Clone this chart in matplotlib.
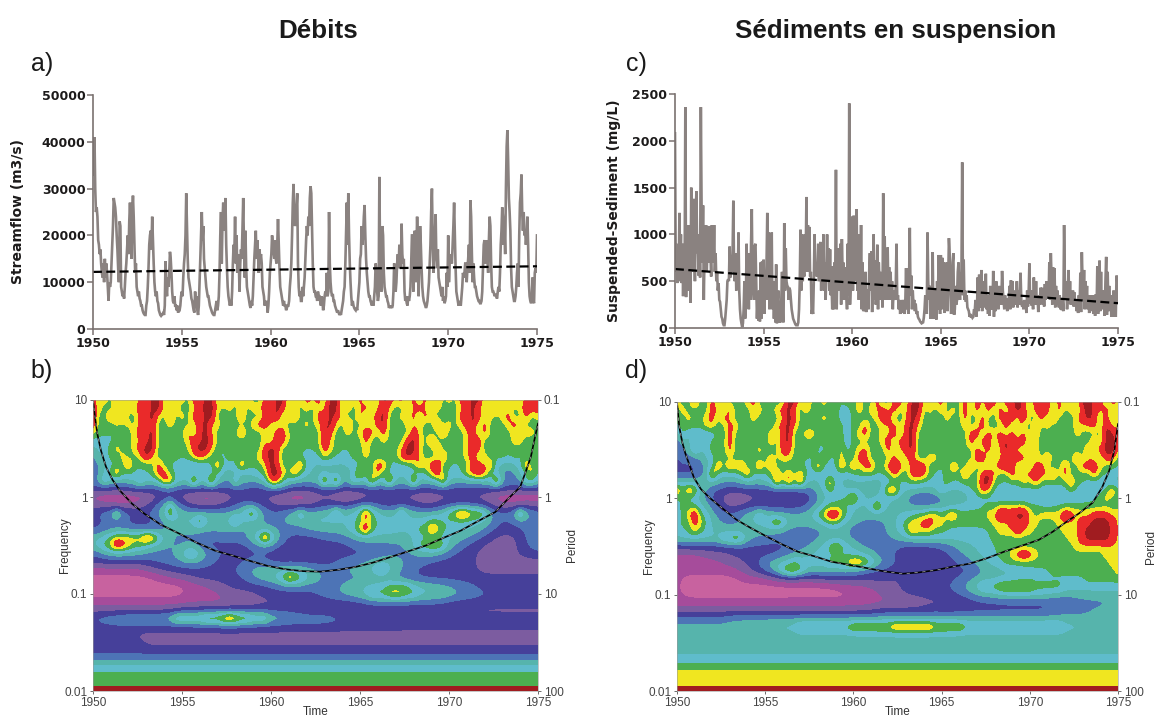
import numpy as np
import matplotlib
matplotlib.use('Agg')
import matplotlib.pyplot as plt
from matplotlib.colors import ListedColormap, BoundaryNorm

W, H = 1155, 718

# values, 24 samples per year, in thousands of m3/s
flow_k = [
    33,38,41,30,25,26,24,19,18,16,17,14,12,11,14,10,15,11,14,12,9,6,10,9,
    10,14,18,22,28,27,26,24,20,17,13,10,23,22,9,8,7,8,6.5,9,12,14,17,20,
    16,23,27,22,15,25,28.5,24,18,12,14,9,8,7,8,6.5,6,5,5,4,3.5,3.2,3,3,
    5,6,9,13,18,20,21,17,24,19,14,10,8,7,8,6,5.5,4,3.5,3,2.8,3,3.2,3.5,
    3,5,14.5,9,7,11,9,12,16.5,15,12,8,6,5.5,7,5,5,4,5,3.5,4,4,5,7,
    8,7,11,14,16,20,29,22,15,11,10,9,8,6.5,6,5,4,3.5,8,5,7,4,3,5,
    10,15,20,25,19,22,15,13,11,9,8,7,7,6,5,4.5,4,3.5,3.2,3,3,4,5,6,
    4,5,7,12,20,25,14,23,27,21,24,28,18,13,9,7,6,5,6,5,8,14,18,16,
    24,14,20,12,16,15,8,14,17,15,22,28,18,11,21,13,9,8,7,6,5,4.5,6,5,
    7,11,15,18,21,15,19,16,12,17,15,16,14,9,8,7,5,6,5,6,3.5,5,8,12,
    14,16,20,18,17,15,19,15,14,18,23.5,18,13,9,8,7,6,5,6,5,5,4,4.5,5,
    5,6,9,11,14,20,27,31,24,22,23,26,29,14,9,7,8,6,6,9,7,9,11,15,
    19,22,20,24,22,28,30.5,29,21,14,9,8,8,7,7,6,8,7,7,6,5,7,6,4,
    5,7,8,7,12,7,8,25,14,10,8,7,7.5,6,6,5,4.5,4,3.5,4,3.5,3,3.5,3,
    4,5,6,8,9,14,21,27,18,29,20,14,10,7,5,6,5,4.5,4.2,4,4.5,4,6,8,
    10,15,16,22,18,20,24,26.5,20,15,12,10,8,7,7,6,5.5,5,6,5,7,9,14,12,
    8,6,7,32.5,14,9,8,22,20,12,9,8,7,7,6,5.5,4.5,5,4.5,5,4.5,5,8,14,
    12,8,10,14,16,13,18,15,13,22.5,16,14,15,8,6,7,5.5,5,7,6,7,9,14,20,
    20,8,20,21,10,16,24,18,7,15,22,18,13,9,7,6,5.5,5,4.5,5,6,8,10,14,
    18,25,30,20,12,17,20,24.5,15,13,17,11,10,9,8,7,9,6,7,5.5,6,7,12,9,
    20,10,14,16,15,14,18,22,27,20,13,8,7,6,5,6,5.5,5,7,9,12,11,12,14,
    14,10,13,15,18,12,27.5,24,16,10,14,11,9,9,8,7,6.5,6,6,5.5,5.5,6,8,13,
    18,19,14,17,19,15,12,19,24,22,14,9,8,8,7.5,7,7.5,7,6.5,8,9,8,12,18,
    21,26,24,18,21,16,30,39,42.5,36,28,25,21,13,9,8,7,6,6,7,9,12,14,9,
    20,27,29,33,25,21,25,20,21,18,20,24,18,10,7,6,5.5,6,11,6,5.5,12,13,12,
    20,
]
flow_trend = [12200, 13400]

# mg/L, 24 samples per year
sediment = [
    2080,600,900,480,800,500,1230,700,1000,480,900,340,800,480,2360,330,900,400,1100,500,900,270,1500,1000,
    600,1380,900,500,1200,1460,800,900,560,1000,540,2360,1300,700,1310,300,800,700,1100,600,900,700,1090,800,
    800,550,1100,800,700,1100,600,800,500,600,400,480,300,280,200,120,100,50,30,30,100,200,300,500,
    520,500,870,540,700,600,800,1360,600,500,800,400,700,500,1020,400,200,100,50,10,50,200,500,100,
    300,900,250,700,200,800,300,900,1270,500,400,300,880,900,500,100,300,80,400,70,700,100,710,300,
    730,150,600,300,700,1230,300,1020,200,600,300,1020,200,500,100,400,60,680,50,300,400,60,100,60,
    300,600,100,60,1120,400,850,500,450,440,300,430,400,300,200,150,100,80,60,40,30,30,30,60,
    200,500,1050,400,1000,500,700,550,1000,700,1400,600,1100,800,1080,550,600,150,200,150,500,1000,600,700,
    550,600,900,500,750,920,400,800,500,1000,400,700,300,600,1000,500,850,400,840,350,500,200,660,200,
    700,500,1690,200,700,450,850,400,900,250,950,600,700,300,650,300,400,200,900,350,2400,250,500,700,
    1190,400,1200,500,750,900,1270,400,1000,300,900,300,1100,200,700,180,500,180,600,170,400,400,200,600,
    800,400,820,170,600,1000,300,720,250,400,890,200,700,500,600,300,500,220,1440,600,980,300,700,300,
    860,400,650,300,600,300,500,200,400,350,300,450,900,300,350,200,300,150,250,200,300,160,300,150,
    300,640,200,640,150,500,1070,350,560,200,400,250,300,180,260,150,180,120,100,90,70,60,50,55,
    60,110,200,350,300,150,1020,500,300,450,100,450,200,810,100,350,100,400,90,500,200,780,400,150,
    780,200,750,500,700,160,600,400,700,180,500,960,800,400,150,300,700,800,140,200,450,250,300,600,
    700,400,300,500,600,1770,350,730,300,400,280,350,220,200,180,120,150,110,130,110,120,200,180,300,
    120,200,540,180,570,220,400,620,180,500,220,400,300,580,200,300,150,350,130,450,200,300,200,610,
    120,400,180,500,250,350,200,450,260,350,250,610,400,300,200,350,220,280,180,320,250,450,200,510,
    280,500,220,350,260,400,250,500,220,400,250,350,590,300,230,250,200,300,220,250,160,400,230,380,
    690,260,400,240,350,200,540,300,250,500,250,350,170,300,250,430,300,430,250,400,230,470,300,500,
    330,500,350,700,300,800,550,250,650,300,640,220,450,280,400,280,220,350,200,300,190,300,180,1100,
    500,300,500,200,350,620,260,500,250,350,260,400,230,380,250,300,180,300,160,350,200,590,170,810,
    500,300,620,200,500,280,450,200,350,160,300,190,350,180,260,150,350,130,360,190,660,150,350,720,
    180,600,200,350,300,400,130,500,760,140,600,180,450,200,350,120,300,120,400,130,200,120,560,500,
    270,
]
sediment_trend = [630, 265]

# wavelet power classes (hex digit per cell), 3 cells per year, 12 rows per decade, top row = frequency 10
power_b = [
    "978 797 879 8aa 797 879 8aa 797 879 779 8aa 797 989 7aa 797 979 7a9 897 979 797 879 8aa 797 979 799 9",
    "987 787 889 8aa 878 778 9aa 878 787 889 8a9 787 878 8aa 787 897 8a8 778 898 787 778 9a8 879 787 899 9",
    "a77 979 779 9a8 797 879 8aa 777 797 779 9a7 897 779 8a9 877 978 9a7 787 979 877 779 8a9 787 897 797 8",
    "977 787 879 8a7 787 778 9a8 877 777 899 878 777 878 9a8 797 787 9a7 778 887 797 878 9a7 977 789 877 7",
    "877 667 789 9a7 777 797 9a8 667 797 778 799 677 777 a97 787 899 797 767 987 779 677 897 967 778 788 7",
    "665 677 788 9a7 667 789 9a9 667 777 678 7a9 677 767 a87 677 797 787 679 a87 977 767 899 777 778 876 7",
    "566 787 789 aa7 787 669 aa8 667 767 779 a97 767 667 987 667 787 767 78a a87 797 767 899 767 777 776 6",
    "456 768 778 a87 767 678 987 657 667 789 a97 676 665 876 667 787 665 79a 987 779 767 897 866 767 666 7",
    "356 667 966 679 766 655 556 966 697 678 a97 669 655 556 566 666 996 655 796 9a7 666 799 696 545 697 7",
    "345 796 766 679 966 655 556 753 565 667 aa8 697 555 555 346 956 965 665 665 8a7 566 89a 965 334 668 6",
    "467 555 567 556 996 569 569 543 755 545 997 555 555 969 357 559 559 555 955 569 555 555 569 543 477 5",
    "333 333 344 433 333 433 334 433 443 333 444 333 333 333 333 333 333 333 333 343 333 333 333 343 333 3",
    "100 000 000 012 332 111 000 012 222 222 211 000 012 221 000 112 222 222 211 112 222 222 210 000 000 0",
    "222 111 122 334 575 332 222 233 346 433 322 222 223 333 343 554 333 333 332 233 334 333 322 211 222 2",
    "345 575 443 345 586 555 565 555 557 864 435 567 556 568 655 7a7 655 586 555 556 78a 988 754 445 865 4",
    "333 443 333 334 556 566 865 556 865 554 345 555 566 665 566 787 666 666 566 776 666 666 554 334 454 3",
    "334 444 433 333 445 555 555 555 444 455 544 444 555 555 566 8a7 666 665 677 987 666 655 543 333 344 4",
    "566 788 888 a97 654 444 433 444 445 67a 754 333 333 444 445 555 556 555 566 666 555 544 332 222 335 5",
    "667 8a9 877 655 544 455 433 333 333 445 543 333 333 333 334 444 444 445 677 887 554 333 222 222 334 5",
    "345 555 555 444 445 677 654 443 333 333 322 222 222 223 333 333 344 444 455 554 433 332 222 222 333 3",
    "333 333 333 344 444 555 544 333 334 444 333 333 333 334 444 455 566 554 444 333 333 332 222 222 222 2",
    "111 111 111 222 333 333 333 333 445 555 556 666 555 444 555 566 776 554 433 333 333 332 222 222 222 2",
    "000 000 000 001 112 223 333 333 334 556 667 987 665 444 444 444 444 433 333 333 333 333 333 333 333 3",
    "000 000 000 000 000 001 112 223 333 333 344 454 444 444 555 566 667 777 666 555 544 443 333 333 333 3",
    "000 000 000 000 000 011 111 122 222 233 333 333 334 445 556 667 778 887 766 666 655 544 443 333 333 3",
    "111 111 111 111 111 111 111 111 112 122 222 222 233 333 333 344 444 444 444 444 333 333 333 333 333 3",
    "222 222 222 222 222 333 333 333 333 333 333 333 222 222 222 222 222 222 222 222 222 222 222 222 222 2",
    "445 555 666 666 667 777 788 89a 988 777 666 555 555 554 444 444 444 333 333 333 333 333 333 333 333 3",
    "333 333 333 333 333 333 333 333 333 333 333 333 333 333 333 333 333 333 333 333 333 333 333 333 333 3",
    "333 333 322 222 222 222 222 222 222 222 222 222 222 222 222 222 222 222 222 222 222 222 222 222 222 2",
    "333 333 333 222 222 222 222 222 222 222 222 222 222 222 222 222 222 222 222 222 222 222 222 222 222 2",
    "3" * 76,
    "4" * 76,
    "6" * 76,
    "7" * 76,
    "7" * 76,
    "7" * 76,
]
power_d = [
    "877 977 979 777 897 777 7aa 797 787 767 787 797 799 7aa 878 977 797 989 979 9a9 799 979 797 aa9 979 8",
    "787 777 987 977 788 778 9a8 787 777 764 787 889 897 8aa 787 878 797 979 797 9a9 799 979 787 9a9 897 8",
    "778 678 979 877 787 777 8a9 777 787 764 777 789 977 8a9 777 787 797 797 799 97a 779 797 778 9a9 797 8",
    "677 768 877 987 777 778 9a8 777 777 773 779 778 897 9a8 776 776 787 897 779 797 797 877 678 889 7a8 8",
    "474 654 667 977 677 787 9a7 788 777 673 789 778 897 9a7 776 776 779 979 897 979 787 767 668 777 7aa 8",
    "364 754 777 977 777 787 9a7 777 667 773 777 778 979 9a7 776 776 779 799 79a 999 787 767 667 779 7aa 9",
    "364 756 777 977 678 766 997 777 667 684 789 777 978 9a7 777 675 777 979 78a 887 887 777 777 797 9aa 8",
    "353 455 677 777 667 786 887 766 676 684 799 777 797 897 788 675 777 9a7 689 999 787 977 679 788 799 7",
    "343 335 697 989 769 696 666 666 966 597 979 977 9a9 79a 976 669 679 777 89a 977 799 777 977 999 877 6",
    "333 334 965 666 965 679 797 965 566 566 677 766 797 799 966 677 797 79a 877 988 999 897 977 779 766 5",
    "566 556 654 445 655 569 697 955 569 554 555 445 566 677 666 676 676 7aa 766 778 797 776 797 666 555 5",
    "979 854 333 333 333 333 333 334 567 665 565 555 996 555 555 765 566 798 655 566 666 555 676 565 579 6",
    "666 554 332 101 222 222 222 233 456 667 965 556 555 443 333 444 455 666 555 555 555 566 555 666 787 7",
    "677 765 433 223 333 333 333 334 567 776 555 696 555 544 444 555 666 667 788 888 776 666 777 777 777 7",
    "568 a76 544 345 567 655 555 556 78a a86 555 555 556 667 788 789 777 778 8a9 9aa 878 888 a98 889 998 8",
    "677 986 554 445 566 678 755 555 567 765 554 444 556 788 998 877 777 777 888 999 887 778 888 99a aa9 8",
    "567 876 555 555 445 555 444 444 445 554 433 444 556 798 887 766 666 666 788 8a8 877 777 888 9aa aa9 8",
    "666 666 667 787 555 444 444 444 455 555 444 444 455 566 666 666 666 666 777 777 777 777 788 9aa aa9 8",
    "333 333 333 333 333 333 334 445 567 876 554 444 443 333 333 344 555 666 677 777 777 777 778 888 888 8",
    "111 112 222 233 333 333 445 556 666 666 665 544 433 322 233 334 455 566 677 89a 987 777 777 777 788 8",
    "111 111 112 222 334 556 667 666 667 778 998 765 443 333 333 333 444 556 667 777 777 777 777 777 778 8",
    "111 111 111 112 233 456 788 765 555 555 443 333 333 333 333 333 333 445 555 556 666 677 777 777 777 8",
    "100 000 000 001 111 112 222 222 333 333 333 333 322 333 333 333 444 555 555 666 666 666 666 677 777 7",
    "100 000 000 000 000 000 000 000 000 011 111 122 223 333 333 344 456 677 788 888 877 777 666 666 666 6",
    "100 000 000 000 000 000 000 000 000 000 011 112 222 333 333 333 444 555 566 666 666 655 555 555 555 5",
    "111 111 111 111 111 111 111 111 111 111 111 111 111 111 222 222 223 333 333 333 333 333 334 444 444 5",
    "222 222 222 222 222 222 222 222 222 222 222 233 333 333 333 333 333 333 333 333 333 344 444 445 555 5",
    "444 444 444 555 555 555 555 555 555 555 555 555 555 555 555 555 555 555 555 555 555 555 555 555 555 5",
    "555 555 555 555 555 566 666 777 777 777 888 888 899 999 998 888 877 777 777 777 777 777 666 655 555 5",
    "5" * 76,
    "5" * 76,
    "5" * 76,
    "6" * 76,
    "7" * 76,
    "8" * 76,
    "8" * 76,
    "8" * 76,
]

coi_years_b = [1950, 1950.1, 1950.24, 1950.45, 1950.73, 1951.1, 1951.5, 1952.2, 1952.9, 1953.8, 1954.87,
               1955.8, 1956.85, 1957.8, 1958.8, 1959.8, 1960.8, 1961.8, 1962.77, 1963.8, 1964.74, 1965.7,
               1966.7, 1967.7, 1968.7, 1969.7, 1970.66, 1971.6, 1972.6, 1973.3, 1974, 1974.3, 1974.6, 1974.8, 1975]
coi_freq_b = [10, 7, 4.5, 3, 2.05, 1.5, 1.17, 0.85, 0.67, 0.52, 0.417, 0.34, 0.28, 0.25, 0.22, 0.195, 0.18,
              0.172, 0.17, 0.178, 0.19, 0.21, 0.24, 0.275, 0.316, 0.38, 0.45, 0.56, 0.70, 0.95, 1.27, 1.8, 2.6, 3.9, 5.7]
coi_years_d = [1950, 1950.13, 1950.3, 1950.48, 1950.96, 1951.35, 1951.83, 1952.6, 1953.37, 1954.2, 1955.1,
               1956, 1956.83, 1957.8, 1958.75, 1959.7, 1960.67, 1961.7, 1962.8, 1963.7, 1964.7, 1965.6,
               1966.6, 1967.6, 1968.56, 1969.5, 1970.5, 1971.3, 1972, 1972.8, 1973.56, 1974.1, 1974.5, 1974.8, 1975]
coi_freq_d = [10, 5.5, 3.8, 2.9, 1.64, 1.25, 1.02, 0.78, 0.60, 0.49, 0.40, 0.33, 0.28, 0.25, 0.22, 0.205, 0.19,
              0.175, 0.165, 0.17, 0.18, 0.195, 0.21, 0.24, 0.28, 0.32, 0.37, 0.45, 0.557, 0.70, 0.90, 1.3, 1.93, 3.2, 5.9]

year_ticks = [1950, 1955, 1960, 1965, 1970, 1975]
freq_labels = ['0.01', '0.1', '1', '10']
period_labels = ['100', '10', '1', '0.1']

level_colors = ['#c8629f', '#a64c9b', '#7c5ca0', '#46409a', '#4d74b6', '#56b4ac',
                '#5fbccb', '#4caf50', '#f0e620', '#ea2a2a', '#a01c20']
level_edges = [-0.5, 0.5, 1.5, 2.5, 3.5, 4.5, 5.5, 6.5, 7.4, 8.2, 9.4, 11]
cmap = ListedColormap(level_colors)
norm = BoundaryNorm(level_edges, 11, clip=True)
LINE_GREY = '#8a8280'
AXIS_GREY = '#7a7270'


def ax_px(fig, left, top, right, bottom):
    return fig.add_axes([left / W, 1 - bottom / H, (right - left) / W, (bottom - top) / H])


def decode(rows):
    grid = np.array([[int(c, 16) for c in r.replace(' ', '')] for r in rows], dtype=float)
    # soften the steps of the low classes, keep the hot spots as read
    pad = np.pad(grid, 2, mode='edge')
    soft = np.apply_along_axis(lambda r: np.convolve(r, [1 / 9, 2 / 9, 3 / 9, 2 / 9, 1 / 9], mode='same'), 1, pad)
    soft = np.apply_along_axis(lambda c: np.convolve(c, [0.15, 0.7, 0.15], mode='same'), 0, soft)[2:-2, 2:-2]
    return np.where(grid >= 7, grid, soft)


def draw_series(ax, values, trend, ymax, yticks, ylabel, labelx):
    x = 1950 + np.arange(len(values)) / 24
    ax.plot(x, values, color=LINE_GREY, lw=1.9, solid_joinstyle='miter')
    ax.plot([1950, 1975], trend, color='black', lw=1.6, ls=(0, (4, 2)))
    ax.set_xlim(1950, 1975)
    ax.set_ylim(0, ymax)
    ax.set_xticks(year_ticks)
    ax.set_yticks(yticks)
    ax.spines[['top', 'right']].set_visible(False)
    ax.spines[['left', 'bottom']].set_color(AXIS_GREY)
    ax.spines[['left', 'bottom']].set_linewidth(1.2)
    ax.tick_params(length=4, width=1.1, color=AXIS_GREY, pad=1.5, labelsize=9, labelcolor='#1c1a1a')
    for t in ax.get_xticklabels() + ax.get_yticklabels():
        t.set_fontweight('bold')
    ax.set_ylabel(ylabel, fontweight='bold', fontsize=10, color='#1c1a1a')
    ax.yaxis.set_label_coords(labelx, 0.5)


def draw_wavelet(ax, rows, coi_x, coi_f, right_pad):
    ax.imshow(decode(rows), cmap=cmap, norm=norm, aspect='auto', origin='upper',
              extent=(1950 - 1 / 6, 1975 + 1 / 6, -2 - 1 / 24, 1 + 1 / 24),
              interpolation='bicubic', interpolation_stage='data')
    ax.axhspan(-2, -1.953, color=level_colors[-1], lw=0)
    ax.plot(coi_x, np.log10(coi_f), color='black', lw=1.2)
    ax.plot(coi_x, np.log10(coi_f), color='#dddddd', lw=0.4, ls=(0, (6, 8)))
    ax.set_xlim(1950, 1975)
    ax.set_ylim(-2, 1)
    ax.set_xticks(year_ticks)
    ax.set_yticks([-2, -1, 0, 1])
    ax.set_yticklabels(freq_labels)
    ax.tick_params(length=2.5, width=0.6, color='#555555', labelsize=8.5, labelcolor='#444444', pad=1.5)
    ax.set_xlabel('Time', fontsize=8.5, color='#333333', labelpad=-1.5)
    ax.set_ylabel('Frequency', fontsize=8.5, color='#333333', labelpad=-5)
    for s in ax.spines.values():
        s.set_linewidth(0.4)
        s.set_color('#999999')
    right = ax.twinx()
    right.set_ylim(-2, 1)
    right.set_yticks([-2, -1, 0, 1])
    right.set_yticklabels(period_labels)
    right.tick_params(length=2.5, width=0.6, color='#555555', labelsize=8.5, labelcolor='#444444', pad=1.5)
    right.set_ylabel('Period', fontsize=8.5, color='#333333', labelpad=right_pad)
    for s in right.spines.values():
        s.set_visible(False)


def main():
    fig = plt.figure(figsize=(W / 100, H / 100), dpi=100)

    plt.rcParams['font.family'] = ['DejaVu Sans']
    ax_a = ax_px(fig, 93, 95, 537, 329)
    draw_series(ax_a, [v * 1000 for v in flow_k], flow_trend, 50000,
                [0, 10000, 20000, 30000, 40000, 50000], 'Streamflow (m3/s)', -0.153)
    ax_c = ax_px(fig, 675, 94, 1118, 328)
    draw_series(ax_c, sediment, sediment_trend, 2500,
                [0, 500, 1000, 1500, 2000, 2500], 'Suspended-Sediment (mg/L)', -0.122)

    plt.rcParams['font.family'] = ['Liberation Sans', 'DejaVu Sans']
    ax_b = ax_px(fig, 93, 400, 538, 691)
    draw_wavelet(ax_b, power_b, coi_years_b, coi_freq_b, 2)
    ax_d = ax_px(fig, 677, 402, 1118, 691)
    draw_wavelet(ax_d, power_d, coi_years_d, coi_freq_d, 1)

    for txt, x in [('Débits', 318), ('Sédiments en suspension', 896)]:
        fig.text(x / W, 1 - 31 / H, txt, family='Liberation Sans', fontweight='bold', fontsize=18.7,
                 ha='center', va='center', color='#1a1a1a')
    for txt, x, y in [('a)', 42, 64), ('c)', 636, 64), ('b)', 42, 371), ('d)', 636, 371)]:
        fig.text(x / W, 1 - y / H, txt, family='Liberation Sans', fontsize=18,
                 ha='center', va='center', color='#1a1a1a')

    fig.savefig('out.png', dpi=100, facecolor='white')


if __name__ == "__main__":
    main()
